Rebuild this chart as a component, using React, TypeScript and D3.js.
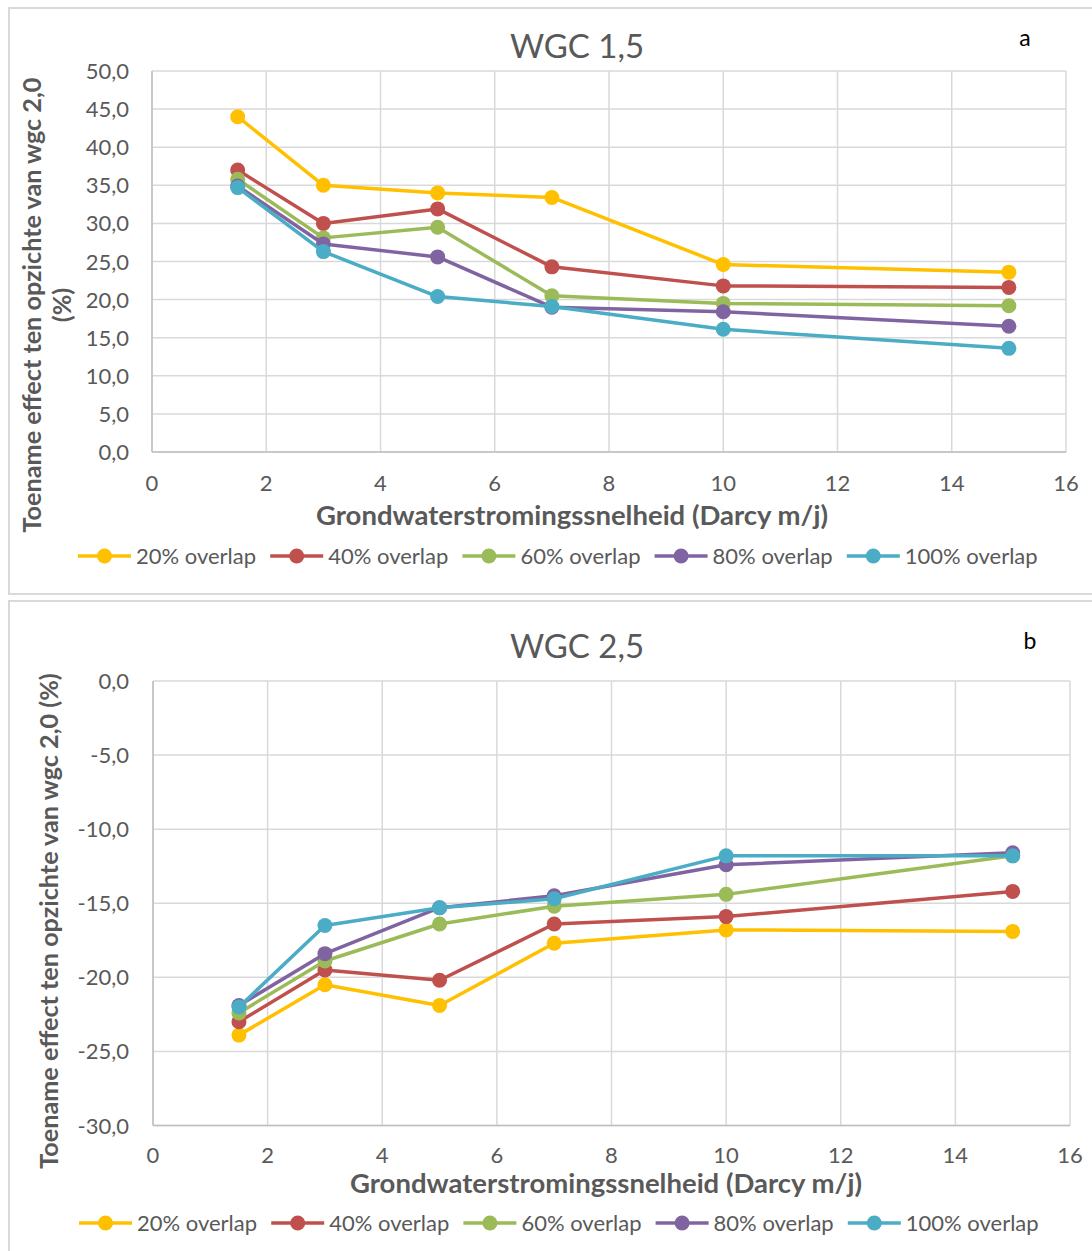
import React from "react";
import * as d3 from "d3";

// ---------- data ----------
const xValues = [1.5, 3, 5, 7, 10, 15];
const xTicks = [0, 2, 4, 6, 8, 10, 12, 14, 16];
const seriesNames = ["20% overlap", "40% overlap", "60% overlap", "80% overlap", "100% overlap"];

const wgc15_20 = [44.0, 35.0, 34.0, 33.4, 24.6, 23.6];
const wgc15_40 = [37.0, 30.0, 31.9, 24.3, 21.8, 21.6];
const wgc15_60 = [35.8, 28.1, 29.5, 20.5, 19.5, 19.2];
const wgc15_80 = [34.9, 27.3, 25.6, 19.0, 18.4, 16.5];
const wgc15_100 = [34.7, 26.3, 20.4, 19.1, 16.1, 13.6];

const wgc25_20 = [-23.9, -20.5, -21.9, -17.7, -16.8, -16.9];
const wgc25_40 = [-23.0, -19.5, -20.2, -16.4, -15.9, -14.2];
const wgc25_60 = [-22.4, -18.9, -16.4, -15.2, -14.4, -11.8];
const wgc25_80 = [-21.9, -18.4, -15.3, -14.5, -12.4, -11.6];
const wgc25_100 = [-22.0, -16.5, -15.3, -14.7, -11.8, -11.8];

const yTicksA = [0, 5, 10, 15, 20, 25, 30, 35, 40, 45, 50];
const yTicksB = [-30, -25, -20, -15, -10, -5, 0];

const seriesA = [wgc15_20, wgc15_40, wgc15_60, wgc15_80, wgc15_100];
const seriesB = [wgc25_20, wgc25_40, wgc25_60, wgc25_80, wgc25_100];

// ---------- style ----------
const COLORS = ["#FFC000", "#C0504D", "#9BBB59", "#8064A2", "#4BACC6"];
const FONT = "Lato, 'Open Sans', sans-serif";
const TXT = "#595959";
const GRID = "#d9d9d9";
const AXIS = "#bfbfbf";

const fmt = (v: number) => v.toFixed(1).replace(".", ",");

type ChartProps = {
  boxY: number;
  boxH: number;
  x0: number;
  x1: number;
  yTop: number;
  yBot: number;
  domain: [number, number];
  yTicks: number[];
  series: number[][];
  title: string;
  titleY: number;
  letter: string;
  letterX: number;
  letterY: number;
  yTitleLines: string[];
  yTitleXs: number[];
  yTitleCY: number;
  xTitleX: number;
  xTitleY: number;
  xTickY: number;
  legendY: number;
  legendX0: number;
};

function Chart(p: ChartProps) {
  const x = d3.scaleLinear().domain([0, 16]).range([p.x0, p.x1]);
  const y = d3.scaleLinear().domain(p.domain).range([p.yBot, p.yTop]);
  const line = d3
    .line<number>()
    .x((_, i) => x(xValues[i]))
    .y((d) => y(d));
  const legendStep = 192.2;
  return (
    <g>
      <rect x={9} y={p.boxY} width={1100} height={p.boxH} fill="#fff" stroke={GRID} strokeWidth={2} />
      {/* gridlines */}
      {p.yTicks.map((t) => (
        <line key={"h" + t} x1={p.x0} x2={p.x1} y1={y(t)} y2={y(t)} stroke={GRID} strokeWidth={1.5} />
      ))}
      {xTicks.map((t) => (
        <line key={"v" + t} x1={x(t)} x2={x(t)} y1={p.yTop} y2={p.yBot} stroke={GRID} strokeWidth={1.5} />
      ))}
      <line x1={p.x0} x2={p.x1} y1={p.yBot} y2={p.yBot} stroke={AXIS} strokeWidth={1.5} />
      <line x1={p.x0} x2={p.x0} y1={p.yTop} y2={p.yBot} stroke={AXIS} strokeWidth={1.5} />
      {/* tick labels */}
      {p.yTicks.map((t) => (
        <text key={"yl" + t} x={129} y={y(t) + 8} textAnchor="end" fontFamily={FONT} fontSize={22} fill={TXT}>
          {fmt(t)}
        </text>
      ))}
      {xTicks.map((t) => (
        <text key={"xl" + t} x={x(t)} y={p.xTickY} textAnchor="middle" fontFamily={FONT} fontSize={22} fill={TXT}>
          {t}
        </text>
      ))}
      {/* series */}
      {p.series.map((s, si) => (
        <g key={"s" + si}>
          <path d={line(s) || ""} fill="none" stroke={COLORS[si]} strokeWidth={3.5} strokeLinejoin="round" />
          {s.map((v, i) => (
            <circle key={i} cx={x(xValues[i])} cy={y(v)} r={7.5} fill={COLORS[si]} />
          ))}
        </g>
      ))}
      {/* titles */}
      <text x={577} y={p.titleY} textAnchor="middle" fontFamily={FONT} fontSize={33} fill={TXT}>
        {p.title}
      </text>
      <text x={p.letterX} y={p.letterY} textAnchor="middle" fontFamily={FONT} fontSize={23} fill="#000">
        {p.letter}
      </text>
      <text x={p.xTitleX} y={p.xTitleY} textAnchor="middle" fontFamily={FONT} fontSize={27.5} fontWeight="bold" fill={TXT}>
        Grondwaterstromingssnelheid (Darcy m/j)
      </text>
      {p.yTitleLines.map((l, i) => (
        <text
          key={"yt" + i}
          transform={`translate(${p.yTitleXs[i]},${p.yTitleCY}) rotate(-90)`}
          textAnchor="middle"
          fontFamily={FONT}
          fontSize={25.2}
          fontWeight="bold"
          fill={TXT}
        >
          {l}
        </text>
      ))}
      {/* legend */}
      {seriesNames.map((n, i) => {
        const sx = p.legendX0 + i * legendStep;
        return (
          <g key={"lg" + i}>
            <line x1={sx} x2={sx + 53} y1={p.legendY} y2={p.legendY} stroke={COLORS[i]} strokeWidth={3.5} />
            <circle cx={sx + 26.5} cy={p.legendY} r={7.5} fill={COLORS[i]} />
            <text x={sx + 58} y={p.legendY + 8} fontFamily={FONT} fontSize={22} fill={TXT}>
              {n}
            </text>
          </g>
        );
      })}
    </g>
  );
}

export default function App() {
  return (
    <svg
      width={1092}
      height={1251}
      viewBox="0 0 1092 1251"
      style={{ position: "absolute", left: 0, top: 0, background: "#fff" }}
    >
      <rect x={0} y={0} width={1092} height={1251} fill="#fff" />
      <Chart
        boxY={8}
        boxH={586}
        x0={152}
        x1={1066}
        yTop={71}
        yBot={452}
        domain={[0, 50]}
        yTicks={yTicksA}
        series={seriesA}
        title="WGC 1,5"
        titleY={58}
        letter="a"
        letterX={1025}
        letterY={46}
        yTitleLines={["Toename effect ten opzichte van wgc 2,0", "(%)"]}
        yTitleXs={[41, 71]}
        yTitleCY={305}
        xTitleX={572}
        xTitleY={525}
        xTickY={491}
        legendY={556}
        legendX0={78}
      />
      <Chart
        boxY={601}
        boxH={700}
        x0={153}
        x1={1070}
        yTop={681}
        yBot={1125.5}
        domain={[-30, 0]}
        yTicks={yTicksB}
        series={seriesB}
        title="WGC 2,5"
        titleY={658}
        letter="b"
        letterX={1030}
        letterY={649}
        yTitleLines={["Toename effect ten opzichte van wgc 2,0 (%)"]}
        yTitleXs={[58]}
        yTitleCY={921}
        xTitleX={606}
        xTitleY={1193}
        xTickY={1163}
        legendY={1223}
        legendX0={79}
      />
    </svg>
  );
}
